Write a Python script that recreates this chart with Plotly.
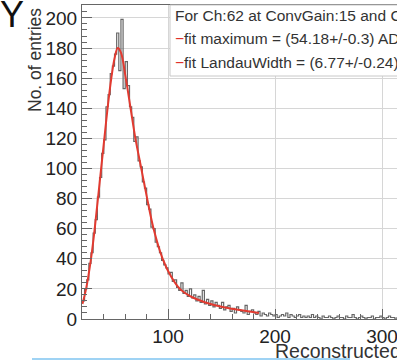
import plotly.graph_objects as go

# ---------------- data ----------------
BIN_LOW = 20
BIN_WIDTH = 2
counts = [12, 20, 26, 37, 44, 57, 66, 81, 94, 110, 119, 141, 149, 163, 168, 176, 190, 165, 199, 153,
          171, 155, 141, 134, 118, 121, 105, 101, 91, 87, 76, 73, 61, 60, 51, 48, 44, 39, 36, 34,
          30, 31, 25, 26, 21, 19, 24, 17, 19, 15, 20, 14, 16, 12, 15, 11, 19, 10, 13, 9,
          12, 8, 11, 9, 7, 11, 6, 8, 9, 5, 7, 4, 8, 6, 5, 4, 9, 3, 5, 6,
          4, 3, 5, 2, 4, 3, 2, 4, 3, 2, 3, 1, 2, 3, 2, 4, 1, 3, 2, 1,
          2, 3, 1, 2, 1, 2, 1, 3, 1, 2, 1, 0, 2, 1, 1, 2, 1, 0, 1, 2,
          1, 1, 0, 2, 1, 1, 3, 1, 0, 1, 2, 1, 0, 1, 1, 2, 0, 1, 1, 2,
          1, 0, 1, 2, 1, 1, 0, 1]

fit_x = [20, 23.4, 28, 31.5, 34.5, 37.5, 40.5, 43.5, 47, 50, 53, 56, 60.5, 65, 69.5, 75,
         80.5, 86.5, 95, 103, 111, 121, 135, 151, 167, 185]
fit_y = [10, 20, 40, 60, 80, 100, 120, 140, 160, 173, 180, 177, 160, 140, 120, 100,
         80, 60, 40, 28, 20, 15, 11, 8, 6, 4]

x_ticks = [100, 200, 300]
y_ticks = [0, 20, 40, 60, 80, 100, 120, 140, 160, 180, 200]

legend_lines = [
    "For Ch:62 at ConvGain:15 and Cut",
    "<span style='color:#e0302a'>\u2212</span>fit maximum = (54.18+/-0.3) ADC",
    "<span style='color:#e0302a'>\u2212</span>fit LandauWidth = (6.77+/-0.24) ADC",
]
y_title = "No. of entries"
x_title = "Reconstructed ADC"

# ---------------- figure ----------------
W, H = 397, 361
L, R, T, B = 82, 0, 5, 42
pw, ph = W - L - R, H - T - B

def px(xp):
    return (xp - L) / pw

def py(yp):
    return (H - B - yp) / ph

edges = [BIN_LOW + BIN_WIDTH * i for i in range(len(counts) + 1)]
step_y = counts + [counts[-1]]

fig = go.Figure()
fig.add_trace(go.Scatter(x=edges, y=step_y, mode="lines", line=dict(color="#666666", width=1.2, shape="hv"),
                         hoverinfo="skip", showlegend=False))
fig.add_trace(go.Scatter(x=fit_x, y=fit_y, mode="lines", line=dict(color="#e23a30", width=2, shape="spline"),
                         hoverinfo="skip", showlegend=False))

font_family = "Liberation Sans, Arial, sans-serif"

fig.update_layout(
    width=W, height=H, margin=dict(l=L, r=R, t=T, b=B, pad=0),
    paper_bgcolor="white", plot_bgcolor="white",
    font=dict(family=font_family, color="#222222"),
    xaxis=dict(range=[19.6, 314], tickvals=x_ticks, ticks="inside", ticklen=10, tickcolor="#666666",
               showline=True, linecolor="#666666", linewidth=1, mirror=True,
               showgrid=True, gridcolor="#d6d6d6", gridwidth=1, zeroline=False,
               ticklabeloverflow="allow",
               tickfont=dict(size=19, color="#222222"),
               minor=dict(dtick=20, tick0=0, ticks="inside", ticklen=5, tickcolor="#666666", showgrid=False)),
    yaxis=dict(range=[0, 208.6], tickvals=y_ticks, ticks="inside", ticklen=10, tickcolor="#666666",
               showline=True, linecolor="#666666", linewidth=1, mirror=False,
               showgrid=True, gridcolor="#d6d6d6", gridwidth=1, zeroline=False,
               tickfont=dict(size=19, color="#222222"),
               minor=dict(dtick=4, tick0=0, ticks="inside", ticklen=5, tickcolor="#666666", showgrid=False)),
)

# legend box
fig.add_shape(type="rect", xref="paper", yref="paper", x0=px(170), x1=1.05, y0=py(76), y1=1.0,
              fillcolor="white", line=dict(color="#c8c8c8", width=1), layer="above")
for i, (txt, yp) in enumerate(zip(legend_lines, [16, 39, 63])):
    fig.add_annotation(xref="paper", yref="paper", x=px(173), y=py(yp), xanchor="left", yanchor="middle",
                       text=txt, showarrow=False, font=dict(size=15.5, color="#333333", family=font_family))

# axis titles
fig.add_annotation(xref="paper", yref="paper", x=px(35), y=py(60), xanchor="center", yanchor="middle",
                   text=y_title, textangle=-90, showarrow=False, font=dict(size=17.5, color="#333333"))
fig.add_annotation(xref="paper", yref="paper", x=px(273), y=py(351), xanchor="left", yanchor="middle",
                   text=x_title, showarrow=False, font=dict(size=19.5, color="#333333"))
fig.add_annotation(xref="paper", yref="paper", x=px(12), y=py(15), xanchor="center", yanchor="middle",
                   text="Y", showarrow=False, font=dict(size=36, color="#111111"))

# light blue line at the bottom
fig.add_shape(type="line", xref="paper", yref="paper", x0=px(32), x1=px(350), y0=py(359), y1=py(359),
              line=dict(color="#9fd3f4", width=2), layer="above")

fig.write_html("out.html")
